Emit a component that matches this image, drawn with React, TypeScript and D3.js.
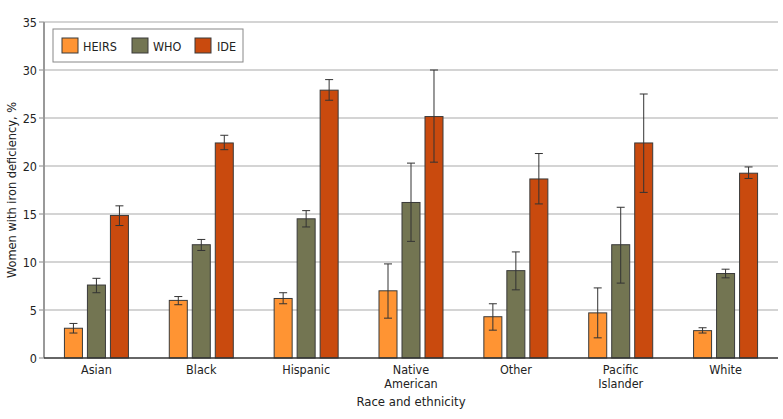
import React from 'react'
import * as d3 from 'd3'

const categories = ['Asian', 'Black', 'Hispanic', 'Native American', 'Other', 'Pacific Islander', 'White']
const categoryLines = [['Asian'], ['Black'], ['Hispanic'], ['Native', 'American'], ['Other'], ['Pacific', 'Islander'], ['White']]
const seriesNames = ['HEIRS', 'WHO', 'IDE']
const seriesColors = ['#ff9433', '#737552', '#c94a0e']

// point estimates, %
const heirs = [3.1, 6.0, 6.2, 7.0, 4.3, 4.7, 2.85]
const who = [7.6, 11.8, 14.5, 16.2, 9.1, 11.8, 8.8]
const ide = [14.85, 22.4, 27.9, 25.15, 18.65, 22.4, 19.25]

// 95% CI lower / upper
const heirsLo = [2.6, 5.55, 5.65, 4.15, 2.9, 2.1, 2.6]
const heirsHi = [3.6, 6.4, 6.8, 9.8, 5.65, 7.3, 3.15]
const whoLo = [6.8, 11.2, 13.65, 12.15, 7.1, 7.8, 8.35]
const whoHi = [8.3, 12.35, 15.35, 20.3, 11.05, 15.7, 9.25]
const ideLo = [13.8, 21.7, 26.85, 20.4, 16.05, 17.25, 18.7]
const ideHi = [15.85, 23.2, 29.0, 30.0, 21.3, 27.5, 19.9]

const yTicks = [0, 5, 10, 15, 20, 25, 30, 35]

const W = 783
const H = 419
const margin = { top: 22, right: 5, bottom: 61, left: 44 }
const font = "'DejaVu Sans Condensed', 'Liberation Sans Narrow', 'Noto Sans', sans-serif"

export default function App() {
  const innerW = W - margin.left - margin.right
  const innerH = H - margin.top - margin.bottom

  const x0 = d3.scaleBand<string>().domain(categories).range([0, innerW]).padding(0)
  const x1 = d3.scaleBand<string>().domain(seriesNames).range([0, 64]).paddingInner(0.217)
  const y = d3.scaleLinear().domain([0, 35]).range([innerH, 0])

  const vals = [heirs, who, ide]
  const los = [heirsLo, whoLo, ideLo]
  const his = [heirsHi, whoHi, ideHi]

  const legendItems = [
    { sx: 62, tx: 83 },
    { sx: 132, tx: 153 },
    { sx: 195, tx: 217 },
  ]

  return (
    <svg width={W} height={H} style={{ position: 'absolute', left: 0, top: 0, background: '#fff' }} fontFamily={font}>
      <g transform={`translate(${margin.left},${margin.top})`}>
        {yTicks.map(t => (
          <g key={t} transform={`translate(0,${y(t)})`}>
            {t > 0 && <line x1={0} x2={innerW} stroke="#c6c6c6" strokeWidth={1.5} />}
            <line x1={-5} x2={0} stroke="#888" strokeWidth={1} />
            <text x={-7} dy="0.36em" textAnchor="end" fontSize={12.5} fill="#222">{t}</text>
          </g>
        ))}
        <line x1={0} x2={0} y1={0} y2={innerH} stroke="#999" strokeWidth={2} />

        {categories.map((c, ci) => {
          const gx = x0(c)! + x0.bandwidth() / 2 - 32
          return (
            <g key={c} transform={`translate(${gx},0)`}>
              {seriesNames.map((s, si) => {
                const v = vals[si][ci]
                const bx = x1(s)!
                const bw = x1.bandwidth()
                const cx = bx + bw / 2
                return (
                  <g key={s}>
                    <rect x={bx} y={y(v)} width={bw} height={innerH - y(v)} fill={seriesColors[si]} stroke="#3a3a3a" strokeWidth={1} />
                    <line x1={cx} x2={cx} y1={y(his[si][ci])} y2={y(los[si][ci])} stroke="#333" strokeWidth={1} />
                    <line x1={cx - 4} x2={cx + 4} y1={y(his[si][ci])} y2={y(his[si][ci])} stroke="#333" strokeWidth={1} />
                    <line x1={cx - 4} x2={cx + 4} y1={y(los[si][ci])} y2={y(los[si][ci])} stroke="#333" strokeWidth={1} />
                  </g>
                )
              })}
            </g>
          )
        })}

        <line x1={0} x2={innerW} y1={innerH} y2={innerH} stroke="#333" strokeWidth={1.5} />

        {categories.map((c, ci) => (
          <text key={c} x={x0(c)! + x0.bandwidth() / 2} y={innerH + 16} textAnchor="middle" fontSize={12.5} fill="#222">
            {categoryLines[ci].map((l, li) => (
              <tspan key={li} x={x0(c)! + x0.bandwidth() / 2} dy={li === 0 ? 0 : 14}>{l}</tspan>
            ))}
          </text>
        ))}

        <text x={innerW / 2} y={innerH + 48} textAnchor="middle" fontSize={13} fill="#222">Race and ethnicity</text>
        <text transform={`translate(${-28},${innerH / 2}) rotate(-90)`} textAnchor="middle" fontSize={12.7} fill="#222">
          Women with iron deficiency, %
        </text>
      </g>

      <g>
        <rect x={53} y={29} width={190} height={33} fill="#fff" stroke="#888" strokeWidth={1} />
        {seriesNames.map((s, si) => (
          <g key={s}>
            <rect x={legendItems[si].sx} y={38} width={16} height={15} fill={seriesColors[si]} stroke="#3a3a3a" strokeWidth={1} />
            <text x={legendItems[si].tx} y={46} dy="0.36em" fontSize={12.5} fill="#222">{s}</text>
          </g>
        ))}
      </g>
    </svg>
  )
}
